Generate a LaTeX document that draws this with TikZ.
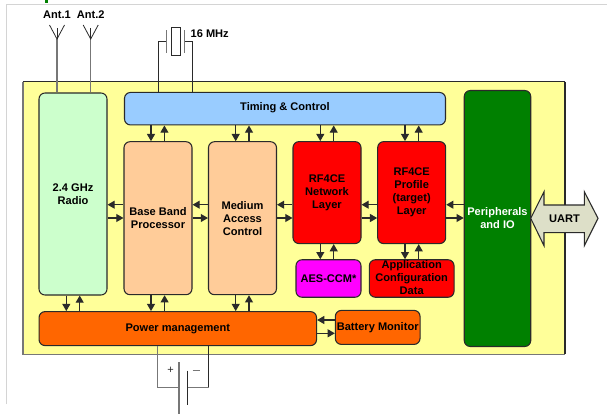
\documentclass[tikz,border=0pt]{standalone}
\usepackage{fontspec}
\setmainfont{Liberation Sans}
\usetikzlibrary{arrows.meta}
\definecolor{panel}{HTML}{FFFF99}
\definecolor{radio}{HTML}{CCFFCC}
\definecolor{timing}{HTML}{99CCFF}
\definecolor{peach}{HTML}{FFCC99}
\definecolor{rred}{HTML}{FF0000}
\definecolor{mgnt}{HTML}{FF00FF}
\definecolor{orng}{HTML}{FF6600}
\definecolor{grn}{HTML}{008000}
\definecolor{uartc}{HTML}{DDDFC8}
\definecolor{wire}{HTML}{2A2A2A}
\definecolor{wireg}{HTML}{777777}
\definecolor{frameg}{HTML}{D4D4D4}
\tikzset{
  blockbox/.style={draw=wire,line width=0.8pt,rounded corners=4.5pt,inner sep=0pt,align=center,
    font=\fontsize{8.3pt}{9.75pt}\selectfont\bfseries},
  flow/.style={draw=wire,line width=0.8pt,-{Triangle[length=5.4pt,width=6pt]}},
  gwire/.style={draw=wireg,line width=1.1pt},
  kwire/.style={draw=wire,line width=0.75pt},
  lbl/.style={inner sep=0pt,font=\fontsize{8.3pt}{9.75pt}\selectfont\bfseries}
}
\begin{document}
\begin{tikzpicture}[x=0.75pt,y=-0.75pt]
\useasboundingbox (0,0) rectangle (607,414);
\fill[white] (0,0) rectangle (607,414);
% outer faint frame
\draw[frameg,line width=0.7pt] (6,404) -- (6,4.5) -- (607,4.5);
\fill[grn] (45,0) rectangle (47.5,3);
% panel
\node[draw=none,fill=panel,minimum width=541.5*0.75pt,minimum height=272*0.75pt,inner sep=0pt] (panel) at (294,218) {};
\draw[wireg,line width=1pt] (panel.north west) -- (panel.south west) -- (panel.south east);
\draw[wire,line width=0.8pt] (panel.north west) -- (panel.north east);
\draw[wire,line width=0.9pt] (panel.north east) -- (panel.south east);
% blocks
\node[blockbox,fill=radio,minimum width=68*0.75pt,minimum height=202*0.75pt] (rad) at (73,194) {2.4 GHz\\Radio};
\node[blockbox,fill=timing,minimum width=321*0.75pt,minimum height=32.5*0.75pt] (tim) at (285,108.7) {};
\node[lbl] (timt) at (285,108) {Timing \& Control};
\node[blockbox,fill=peach,minimum width=68*0.75pt,minimum height=153*0.75pt] (bb) at (158,218.2) {Base Band\\Processor};
\node[blockbox,fill=peach,minimum width=68*0.75pt,minimum height=153*0.75pt] (mac) at (242.5,218.2) {Medium\\Access\\Control};
\node[blockbox,fill=rred,minimum width=68*0.75pt,minimum height=102*0.75pt] (net) at (327,192.6) {RF4CE\\Network\\Layer};
\node[blockbox,fill=rred,minimum width=68*0.75pt,minimum height=102*0.75pt] (prof) at (411.7,192.6) {RF4CE\\Profile\\(target)\\Layer};
\node[blockbox,fill=mgnt,minimum width=65*0.75pt,minimum height=37.5*0.75pt] (aes) at (328.5,278.5) {AES-CCM*};
\node[blockbox,fill=rred,minimum width=84.7*0.75pt,minimum height=37.5*0.75pt] (app) at (411.7,278.5) {};
\node[lbl,align=center] (appt) at (411.7,277.5) {Application\\Configuration\\Data};
\node[blockbox,fill=grn,text=white,minimum width=66.5*0.75pt,minimum height=256*0.75pt] (per) at (497.5,218.5) {Peripherals\\and IO};
\node[blockbox,fill=orng,minimum width=277.5*0.75pt,minimum height=34*0.75pt] (pwr) at (177.8,328.6) {Power management};
\node[blockbox,fill=orng,minimum width=84.7*0.75pt,minimum height=34*0.75pt] (bat) at (377.7,327.4) {Battery Monitor};
% UART
\draw[wire,line width=0.8pt,fill=uartc] (530.7,218.3) -- (544,191.7) -- (544,205) -- (584.3,205) -- (584.3,191.7) -- (598,218.3) -- (584.3,245.7) -- (584.3,232.7) -- (544,232.7) -- (544,245.7) -- cycle;
\node[lbl] (uart) at (564.5,218.3) {UART};
% horizontal pairs
\foreach \l/\r in {rad/bb,bb/mac,mac/net,net/prof,prof/per}{
  \draw[flow] (\r.west |- 0,204.7) -- (\l.east |- 0,204.7);
  \draw[flow] (\l.east |- 0,218) -- (\r.west |- 0,218);
}
\draw[flow] (bat.west |- 0,320) -- (pwr.east |- 0,320);
\draw[flow] (pwr.east |- 0,333.3) -- (bat.west |- 0,333.3);
% vertical pairs
\foreach \b/\d/\u in {bb/151/164.4,mac/235.7/249,net/320.3/333.7,prof/405/418.7}{
  \draw[flow] (\d,0 |- tim.south) -- (\d,0 |- \b.north);
  \draw[flow] (\u,0 |- \b.north) -- (\u,0 |- tim.south);
}
\draw[flow] (320.3,0 |- net.south) -- (320.3,0 |- aes.north);
\draw[flow] (333.7,0 |- aes.north) -- (333.7,0 |- net.south);
\draw[flow] (405,0 |- prof.south) -- (405,0 |- app.north);
\draw[flow] (418.7,0 |- app.north) -- (418.7,0 |- prof.south);
\foreach \b/\d/\u in {rad/66.3/79.7,bb/151/164.6,mac/235.7/249}{
  \draw[flow] (\d,0 |- \b.south) -- (\d,0 |- pwr.north);
  \draw[flow] (\u,0 |- pwr.north) -- (\u,0 |- \b.south);
}
% antennas
\foreach \x/\t/\n in {57/Ant.1/a,90.7/Ant.2/b}{
  \coordinate (ant\n) at (\x,39);
  \draw[gwire] (\x,0 |- rad.north) -- (ant\n);
  \draw[wire,line width=0.6pt] (\x-7.5,25) -- (ant\n) -- (\x+7.5,25);
  \draw[wire,line width=0.6pt] (\x,28) -- (ant\n);
  \node[lbl] (lab\n) at (\x,15) {\t};
}
% crystal
\coordinate (xl) at (166.7,41.5);
\coordinate (xr) at (184.7,41.5);
\draw[kwire] (158.5,0 |- tim.north) -- (158.5,41.5) -- (xl);
\draw[kwire] (192.3,0 |- tim.north) -- (192.3,41.5) -- (xr);
\draw[gwire] (166.7,30) -- (166.7,52.7);
\draw[gwire] (184.7,30) -- (184.7,52.7);
\draw[wire,line width=0.7pt,fill=white] (171.3,27.3) rectangle (180,55.7);
\node[lbl] (xt) at (209.7,34) {16 MHz};
% battery
\coordinate (bp) at (179,387.7);
\coordinate (bm) at (187.3,387.7);
\draw[gwire,line width=0.9pt] (157.7,0 |- pwr.south) -- (157.7,387.7) -- (bp);
\draw[kwire] (208.7,0 |- pwr.south) -- (208.7,387.7);
\draw[gwire,line width=0.9pt] (208.7,387.7) -- (bm);
\draw[gwire,line width=1.1pt] (179,362.3) -- (179,413.5);
\draw[kwire] (187.3,370.7) -- (187.3,405);
\node[lbl,font=\fontsize{8.3pt}{10pt}\selectfont,text=wire] (plus) at (170.5,370.5) {+};
\draw[wireg,line width=0.9pt] (192.5,370.8) -- (199.5,370.8);
\end{tikzpicture}
\end{document}
